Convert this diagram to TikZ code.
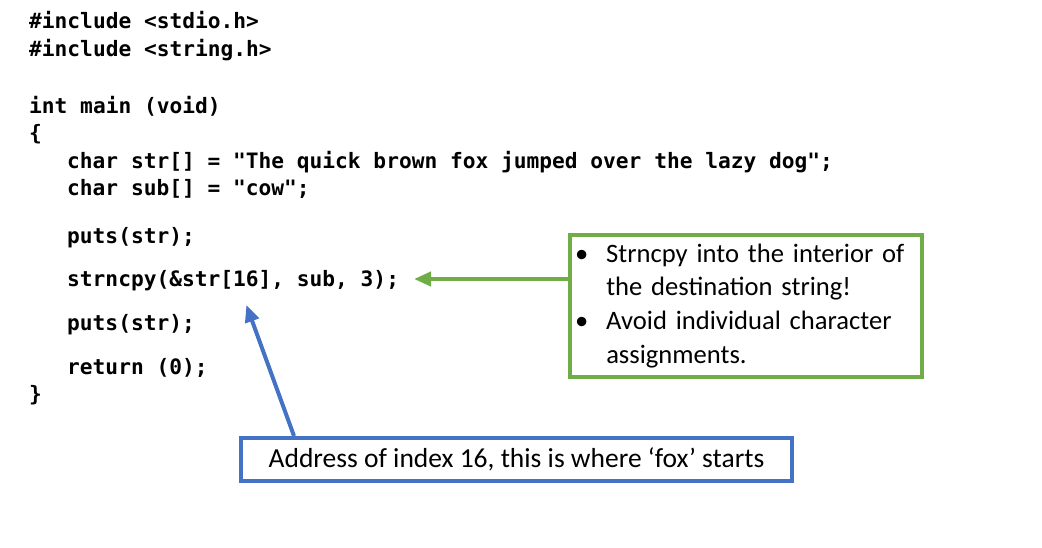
\documentclass[tikz,border=0pt]{standalone}
\usepackage{fontspec}
\setmainfont{Carlito}
\setmonofont{DejaVu Sans Mono}
\usepackage{tikz}
\usetikzlibrary{arrows.meta}
\usetikzlibrary{positioning}
\definecolor{notegreen}{RGB}{112,173,71}
\definecolor{noteblue}{RGB}{68,114,196}
\tikzset{
    code/.style={
           anchor=base west,
           inner sep=0pt,
           font=\ttfamily\bfseries\fontsize{21.2}{26}\selectfont,
           },
    note/.style={
           rectangle,
           draw, line width=4pt,
           fill=white,
           inner xsep=5pt,
           font=\fontsize{26.6}{33.7}\selectfont,
           },
    pointer/.style={
           ->, line width=4pt,
           shorten >=1pt,
           },
}

\begin{document}
\begin{tikzpicture}[x=1pt,y=-1pt,>={Triangle[length=17pt,width=14pt]}]

 \useasboundingbox (0,0) rectangle (1042,547);

 % the program
 \node[code] (inc1)    at (29,28.5)  {\#include <stdio.h>};
 \node[code] (inc2)    at (29,56)    {\#include <string.h>};
 \node[code] (mainhd)  at (29,113)   {int main (void)};
 \node[code] (open)    at (29,140.5) {\{};
 \node[code] (decstr)  at (67,168)   {char str[] = "The quick brown fox jumped over the lazy dog";};
 \node[code] (decsub)  at (67,195)   {char sub[] = "cow";};
 \node[code] (puts1)   at (67,243)   {puts(str);};
 \node[code] (copy)    at (67,286)   {strncpy(\&str[16], sub, 3);};
 \node[code] (puts2)   at (67,330)   {puts(str);};
 \node[code] (ret)     at (67,374)   {return (0);};
 \node[code] (close)   at (29,401.5) {\}};

 % the notes
 \node[note, draw=notegreen,
  text width=342pt,       % fixed width of the box
  minimum height=142pt,
  anchor=north west] (hint) at (568,233)
 {\begin{tabular}{@{}l@{\hspace{18pt}}l@{}}
   \textbullet & Strncpy into the interior of\\
               & the destination string!\\
   \textbullet & Avoid individual character\\
               & assignments.
  \end{tabular}};

 \node[note, draw=noteblue,
  font=\fontsize{27.5}{33}\selectfont,
  minimum width=551pt,
  minimum height=43pt] (addr) at (516.5,459.5)
 {Address of index 16, this is where ‘fox’ starts};

 \coordinate (copyend) at (413,279);
 \coordinate (idx) at (246,304);

 % arrows from the notes to the code
 \draw[pointer, notegreen] (hint.west |- copyend) -- (copyend);
 \draw[pointer, noteblue] (addr.north west) ++(55,0) coordinate (addrfoot) -- (idx);

\end{tikzpicture}
\end{document}
